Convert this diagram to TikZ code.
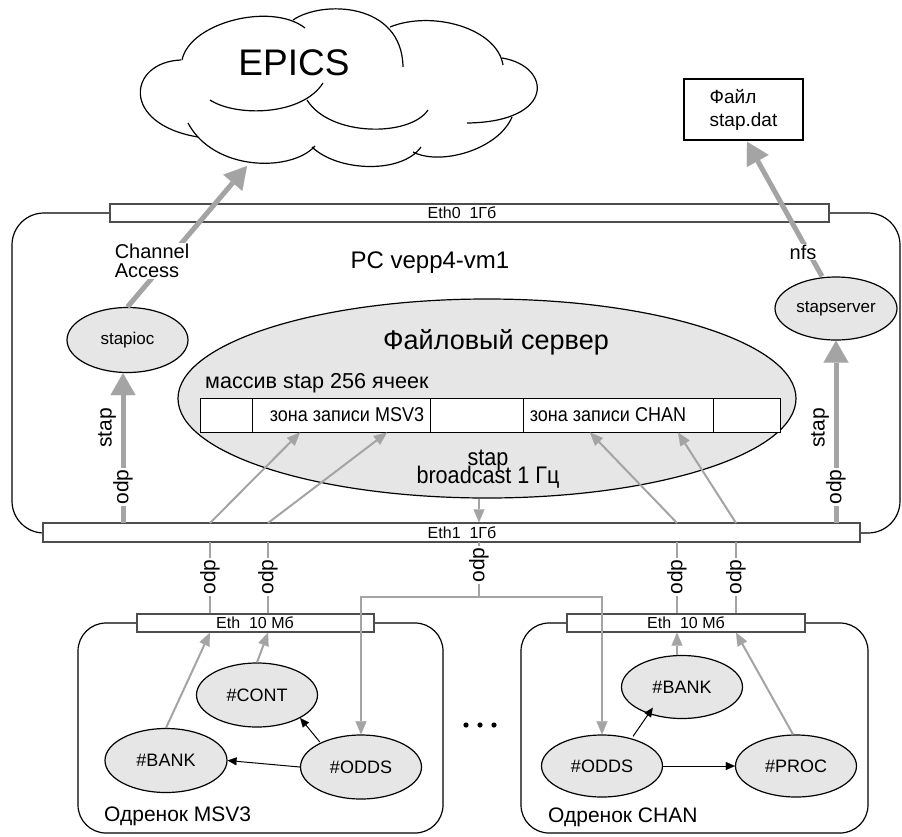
\documentclass[tikz,border=0pt]{standalone}
\usepackage{fontspec}
\setmainfont{Liberation Sans}
\newfontfamily\narrowsans[FakeStretch=0.9]{Liberation Sans}
\usetikzlibrary{arrows.meta,shapes.geometric,calc}

\definecolor{wire}{HTML}{A4A4A4}
\definecolor{procfill}{HTML}{E6E6E6}
\definecolor{barline}{HTML}{4D4D4D}
\newcommand\fsz[2]{\fontsize{#1}{#2}\selectfont}

\tikzset{
  frame/.style={draw, line width=1.2pt},
  proc/.style={ellipse, draw, line width=1.2pt, fill=procfill, inner sep=0pt,
    minimum width=121pt, minimum height=64pt, font=\fsz{18}{20}},
  bus/.style={rectangle, draw=barline, line width=1.3pt, fill=white, inner sep=0pt,
    minimum height=18pt},
  buslbl/.style={inner sep=0pt, font=\fsz{16}{18}},
  cell/.style={rectangle, draw, line width=1pt, fill=white, inner sep=0pt,
    minimum height=34pt, font=\narrowsans\fsz{20}{22}},
  fatwire/.style={draw=wire, line width=5pt,
    -{Triangle[length=22pt,width=25pt,line width=0.1pt]}},
  thinwire/.style={draw=wire, line width=2pt,
    -{Triangle[length=13pt,width=11pt,line width=0.1pt]}},
  plainwire/.style={draw=wire, line width=2pt},
  blackwire/.style={draw=black, line width=1pt,
    -{Triangle[length=9pt,width=8pt,line width=0.1pt]}},
  vlbl/.style={rotate=90, inner sep=1pt, font=\fsz{21}{22}},
  tag/.style={fill=white, inner sep=1pt},
}

\begin{document}
\begin{tikzpicture}[x=1pt,y=-1pt]
\useasboundingbox (0,0) rectangle (902,836);

% host frame and the two crate frames
\draw[frame, rounded corners=32pt] (12,213) rectangle (900,533);
\draw[frame, rounded corners=28pt] (78,623) rectangle (443,833);
\draw[frame, rounded corners=28pt] (521,623) rectangle (868,833);

% EPICS cloud
\begin{scope}[line width=1.2pt]
  \draw (182,60) .. controls (190,22) and (272,2) .. (305,28);
  \draw (293,20) .. controls (322,0) and (402,2) .. (403,67);
  \draw (390,27) .. controls (432,10) and (497,28) .. (503,65);
  \draw (502,58) .. controls (552,66) and (556,122) .. (467,123);
  \draw (512,117) .. controls (498,150) and (440,166) .. (413,152);
  \draw (421,147) .. controls (402,174) and (338,172) .. (312,147);
  \draw (315,146) .. controls (292,172) and (214,172) .. (188,123);
  \draw (181,60) .. controls (128,62) and (120,124) .. (198,137);
  \draw (210,100) .. controls (236,117) and (302,116) .. (323,83);
  \draw (307,100) .. controls (330,137) and (410,137) .. (428,110);
\end{scope}
\node[font=\fsz{37}{40}] (epics) at (294,63) {EPICS};
\coordinate (epicsin) at (247,166);

% data file
\node[draw, line width=1.5pt, minimum width=119pt, minimum height=61pt,
  align=left, font=\fsz{19}{23}] (file) at (743.5,109.5) {Файл\\stap.dat};

% network interfaces
\node[bus, minimum width=719pt] (eth0) at (469.5,213) {};
\node[buslbl] (eth0txt) at (462,213) {Eth0\ \ 1Гб};
\node[bus, minimum width=817pt, minimum height=19pt] (eth1) at (451.5,532.5) {};
\node[buslbl] (eth1txt) at (462,533) {Eth1\ \ 1Гб};
\node[bus, minimum width=237pt] (ethm) at (255.5,623) {};
\node[buslbl] (ethmtxt) at (255,623) {Eth\ \ 10 Мб};
\node[bus, minimum width=238pt] (ethc) at (686,623) {};
\node[buslbl] (ethctxt) at (686,623) {Eth\ \ 10 Мб};

% host processes
\node[proc, font=\fsz{17}{19}, minimum height=65pt] (stapioc) at (127.5,340) {stapioc};
\node[proc, font=\fsz{17}{19}, minimum width=122pt, minimum height=63pt]
  (stapserver) at (836,308.5) {stapserver};
\node[font=\fsz{24}{26}] (pc) at (430,263) {PC vepp4-vm1};

% file server with the stap array
\node[ellipse, draw, line width=1.2pt, fill=procfill, inner sep=0pt,
  minimum width=618pt, minimum height=199pt] (fs) at (487,398.5) {};
\node[font=\fsz{27}{30}] (fstitle) at (496,342) {Файловый сервер};
\node[anchor=west, inner sep=0pt, font=\fsz{21.6}{24}] (arrlbl) at (205,383)
  {массив stap 256 ячеек};
\node[cell, minimum width=52pt]  (c1) at (226,415) {};
\node[cell, minimum width=178pt] (c2) at (341,415) {\hspace*{12pt}зона записи MSV3};
\node[cell, minimum width=93pt]  (c3) at (476.5,415) {};
\node[cell, minimum width=190pt] (c4) at (618,415) {\hspace*{-20pt}зона записи CHAN};
\node[cell, minimum width=67pt]  (c5) at (746.5,415) {};
\node[inner sep=0pt, align=center,
  font={\narrowsans\fsz{24}{18.5}\lineskiplimit=-30pt}] (bcast) at (488,469)
  {stap\\broadcast 1 Гц};

% crate MSV3 tasks
\node[proc] (mcont) at (257,695) {\#CONT};
\node[proc, minimum width=122pt] (mbank) at (166,760.5) {\#BANK};
\node[proc] (modds) at (361,767) {\#ODDS};
\node[anchor=west, inner sep=0pt, font=\fsz{21}{24}] (mlbl) at (104,816) {Одренок MSV3};

% crate CHAN tasks
\node[proc, minimum height=63pt] (cbank) at (682,687) {\#BANK};
\node[proc, minimum height=62pt] (codds) at (602,766) {\#ODDS};
\node[proc, minimum height=62pt] (cproc) at (796,766) {\#PROC};
\node[anchor=west, inner sep=0pt, font=\fsz{21}{24}] (clbl) at (548,817) {Одренок CHAN};

% more crates
\foreach \dx in {466,480,494} \fill (\dx,725) circle (2.6pt);

% tap points on the 1 Gb interface
\coordinate (tioc) at (123,523);
\coordinate (tsrv) at (836,523);
\coordinate (tm1) at (210,523);
\coordinate (tm2) at (268,523);
\coordinate (tc1) at (677,523);
\coordinate (tc2) at (736,523);
\coordinate (bm1) at (210,542);
\coordinate (bm2) at (268,542);
\coordinate (bc) at (479,542);
\coordinate (bc3) at (677,542);
\coordinate (bc4) at (736,542);
\coordinate (split) at (479,597);

% Channel Access and nfs
\draw[fatwire] (stapioc.north) -- (epicsin);
\draw[fatwire] ($(stapserver.north)+(-14,0)$) -- ($(file.south)+(3.5,1)$);

% odp into the host processes
\draw[fatwire] (tioc) -- (tioc |- stapioc.south);
\draw[fatwire] (tsrv) -- (stapserver.south);

% odp into the stap array
\draw[thinwire] (tm1) -- ($(c2.south)+(-41,0)$);
\draw[thinwire] (tm2) -- ($(c2.south)+(46,0)$);
\draw[thinwire] (tc1) -- ($(c4.south)+(-28,0)$);
\draw[thinwire] (tc2) -- ($(c4.south)+(60,0)$);
\draw[thinwire] (fs.south -| bc) -- (eth1.north -| bc);

% links between the 1 Gb and 10 Mb interfaces
\draw[plainwire] (bm1) -- (ethm.north -| bm1);
\draw[plainwire] (bm2) -- (ethm.north -| bm2);
\draw[plainwire] (bc3) -- (ethc.north -| bc3);
\draw[plainwire] (bc4) -- (ethc.north -| bc4);
\draw[plainwire] (bc) -- (split);
\draw[thinwire] (split) -| (modds.north);
\draw[thinwire] (split) -| (codds.north);

% crate MSV3 traffic
\draw[thinwire] (mbank.north) -- (ethm.south -| bm1);
\draw[thinwire] (mcont.north) -- (ethm.south -| bm2);
\draw[blackwire] ($(modds.north west)+(2,-2)$) -- (mcont.south east);
\draw[blackwire] (modds.west) -- (mbank.east);

% crate CHAN traffic
\draw[thinwire] (cbank.north -| bc3) -- (ethc.south -| bc3);
\draw[thinwire] ($(cproc.north)+(-3,0)$) -- (ethc.south -| bc4);
\draw[blackwire] ($(codds.north)+(31,2)$) -- ($(cbank.south west)+(14,-2)$);
\draw[blackwire] (codds.east) -- (cproc.west);

% protocol tags
\node[vlbl, tag] (odp1) at (123,487) {odp};
\node[vlbl] (stap1) at (107,428) {stap};
\node[vlbl, tag] (odp2) at (836,487) {odp};
\node[vlbl] (stap2) at (820,428) {stap};
\node[vlbl, tag] (odp3) at (210,577) {odp};
\node[vlbl, tag] (odp4) at (268,577) {odp};
\node[vlbl, tag] (odp5) at (479,565) {odp};
\node[vlbl, tag] (odp6) at (677,577) {odp};
\node[vlbl, tag] (odp7) at (736,577) {odp};
\node[tag, align=left, font=\fsz{20}{19}] (ca) at (152,261) {Channel\\Access};
\node[tag, font=\fsz{20}{22}] (nfs) at (803,252) {nfs};
\end{tikzpicture}
\end{document}
